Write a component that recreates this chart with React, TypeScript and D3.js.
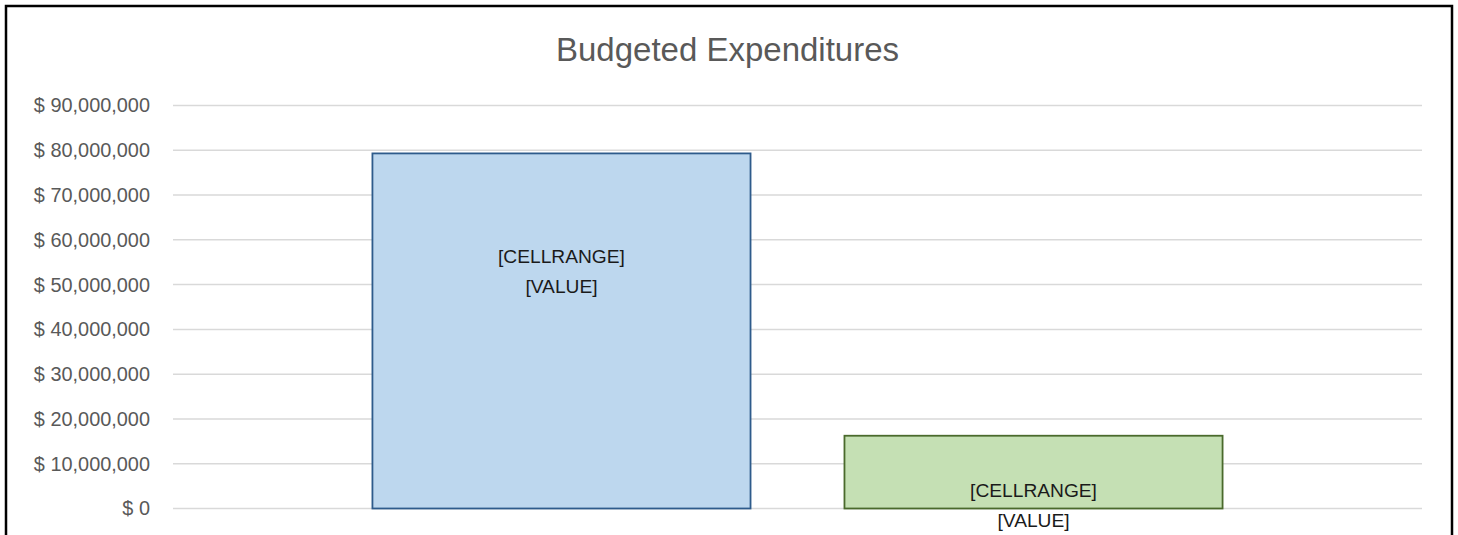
import React from "react";
import * as d3 from "d3";

const title = "Budgeted Expenditures";
const seriesNames = ["Series A", "Series B"];
const seriesValues = [79300000, 16250000];
const labelLines = [["[CELLRANGE]", "[VALUE]"], ["[CELLRANGE]", "[VALUE]"]];
const yTicks = [0, 10000000, 20000000, 30000000, 40000000, 50000000, 60000000, 70000000, 80000000, 90000000];

const fills = ["#BDD7EE", "#C5E0B4"];
const strokes = ["#2E5B8B", "#4A6A2C"];
const labelOffsets = [-60, 33];

const W = 1458;
const H = 535;
const plot = { left: 173, right: 1422, top: 105.5, bottom: 508.5 };
const FONT = "'Liberation Sans', Arial, sans-serif";

export default function App() {
  const y = d3.scaleLinear().domain([0, 90000000]).range([plot.bottom, plot.top]);
  const x = d3
    .scaleBand<string>()
    .domain(seriesNames)
    .range([plot.left, plot.right])
    .paddingInner(0.199)
    .paddingOuter(0.4225);
  const fmt = (v: number) => "$ " + d3.format(",")(v);

  return (
    <svg
      width={W}
      height={H}
      style={{ position: "fixed", left: 0, top: 0, background: "#fff" }}
      fontFamily={FONT}
    >
      <rect x={0} y={0} width={W} height={H} fill="#fff" />
      <rect x={6} y={6} width={1446} height={H + 10} fill="none" stroke="#000" strokeWidth={2.5} />
      <text x={727.5} y={60.5} textAnchor="middle" fontSize={33} fill="#595959">
        {title}
      </text>
      {yTicks.map((t) => (
        <g key={t}>
          <line x1={plot.left} x2={plot.right} y1={y(t)} y2={y(t)} stroke="#d9d9d9" strokeWidth={1.5} />
          <text x={150} y={y(t)} dy="0.35em" textAnchor="end" fontSize={19.9} fill="#595959">
            {fmt(t)}
          </text>
        </g>
      ))}
      {seriesNames.map((s, i) => {
        const bx = x(s)!;
        const bw = x.bandwidth();
        const top = y(seriesValues[i]);
        const mid = (top + y(0)) / 2 + labelOffsets[i];
        return (
          <g key={s}>
            <rect
              x={bx}
              y={top}
              width={bw}
              height={y(0) - top}
              fill={fills[i]}
              stroke={strokes[i]}
              strokeWidth={1.8}
            />
            {labelLines[i].map((ln, j) => (
              <text
                key={j}
                x={bx + bw / 2}
                y={mid + (j - 0.5) * 30}
                dy="0.35em"
                textAnchor="middle"
                fontSize={19.2}
                fill="#1a1a1a"
              >
                {ln}
              </text>
            ))}
          </g>
        );
      })}
    </svg>
  );
}
